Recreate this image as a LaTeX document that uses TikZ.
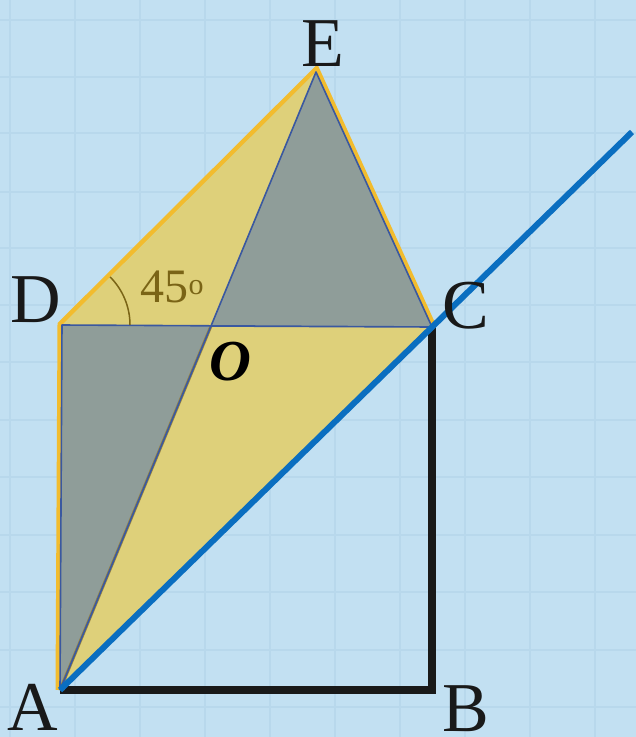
\documentclass[tikz,border=0pt]{standalone}
\usepackage{fontspec}
\setmainfont{Liberation Serif}
\begin{document}
\begin{tikzpicture}[x=1pt,y=-1pt,
  lbl/.style={font=\fontsize{70}{70}\selectfont, text=black!90, inner sep=0pt},
  gridline/.style={draw=gridc, line width=1.6pt},
  yel/.style={fill=yelf},
  gry/.style={fill=gryf},
  edgeo/.style={draw=orng, line width=9pt, line join=miter},
  edgeb/.style={draw=blueedge, line width=1.6pt, line join=round},
  sq/.style={draw=black!90, line width=8pt, line join=miter},
  ray/.style={draw=rayc, line width=6pt}]
\definecolor{bg}{HTML}{C2E0F2}
\definecolor{gridc}{HTML}{B8D8EC}
\definecolor{yelf}{HTML}{DED07A}
\definecolor{gryf}{HTML}{8F9D99}
\definecolor{orng}{HTML}{F2BC2E}
\definecolor{blueedge}{HTML}{3A58A0}
\definecolor{rayc}{HTML}{0A6EC0}
\definecolor{brn}{HTML}{7A6416}
\path[fill=bg] (0,0) rectangle (636,737);
\useasboundingbox (0,0) rectangle (636,737);
\foreach \x in {10,75,140,205,270,335,400,465,530,595} \draw[gridline] (\x,0) -- (\x,737);
\foreach \y in {20,77,133,192,248,305,362,420,477,535,592,650,707} \draw[gridline] (0,\y) -- (636,\y);
\coordinate (A) at (60,690);
\coordinate (B) at (432,690);
\coordinate (C) at (432,327);
\coordinate (D) at (62,325);
\coordinate (E) at (316,72);
\coordinate (O) at (211,326);
\coordinate (R) at (632,132);
% square sides
\draw[sq] (A) -- (B) -- (C);
% outline (outer half shows)
\draw[edgeo] (A) -- (D) -- (E) -- (C);
% fills
\path[yel] (D) -- (E) -- (O) -- cycle;
\path[yel] (A) -- (O) -- (C) -- cycle;
\path[gry] (A) -- (D) -- (O) -- cycle;
\path[gry] (O) -- (E) -- (C) -- cycle;
\draw[draw=brn!80, line width=3pt] (A) -- (O);
\draw[edgeb] (A) -- (D) -- (C) -- (O) -- (E) -- (C);
\draw[edgeb] (A) -- (O);
% angle
\draw[brn, line width=1.5pt] ([shift={(0:68)}]D) arc[start angle=0, end angle=-45, radius=68];
\node[text=brn, font=\fontsize{48}{48}\selectfont, inner sep=0pt] (ang) at (172,287) {45\raisebox{8pt}{\fontsize{30}{30}\selectfont o}};
% ray
\draw[ray] (A) -- (R);
% labels
\node[lbl] (lD) at (36,300) {D};
\node[lbl] (lE) at (323,44) {E};
\node[lbl] (lC) at (466,306) {C};
\node[lbl] (lA) at (33,707) {A};
\node[lbl] (lB) at (466,709) {B};
\node[font=\fontsize{58}{58}\selectfont\bfseries\itshape, inner sep=0pt] (lO) at (230,362) {O};
\end{tikzpicture}
\end{document}
